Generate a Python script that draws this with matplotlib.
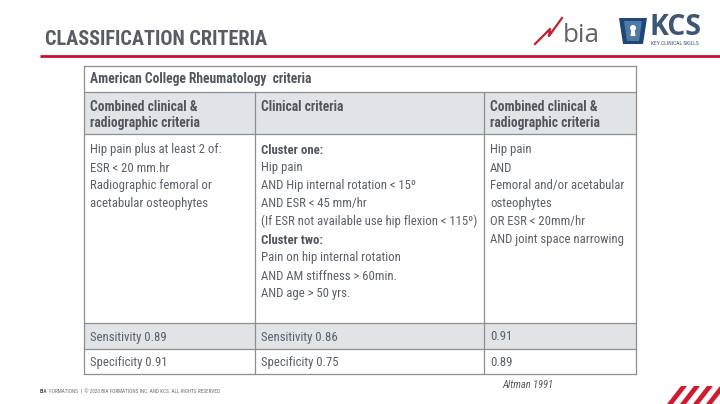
import matplotlib
matplotlib.use("Agg")
import matplotlib.pyplot as plt
from matplotlib import font_manager as fm
from matplotlib.patches import Rectangle, Polygon, Circle

# slide text / table content
title = "CLASSIFICATION CRITERIA"
table_title = "American College Rheumatology  criteria"
col_headers = [["Combined clinical &", "radiographic criteria"],
               ["Clinical criteria"],
               ["Combined clinical &", "radiographic criteria"]]
# (text, bold) per line
col1_lines = [("Hip pain plus at least 2 of:", False),
              ("ESR < 20 mm.hr", False),
              ("Radiographic femoral or", False),
              ("acetabular osteophytes", False)]
col2_lines = [("Cluster one:", True),
              ("Hip pain", False),
              ("AND Hip internal rotation < 15º", False),
              ("AND ESR < 45 mm/hr", False),
              ("(If ESR not available use hip flexion < 115º)", False),
              ("Cluster two:", True),
              ("Pain on hip internal rotation", False),
              ("AND AM stiffness > 60min.", False),
              ("AND age > 50 yrs.", False)]
col3_lines = [("Hip pain", False),
              ("AND", False),
              ("Femoral and/or acetabular", False),
              ("osteophytes", False),
              ("OR ESR < 20mm/hr", False),
              ("AND joint space narrowing", False)]
sensitivity = ["Sensitivity 0.89", "Sensitivity 0.86", "0.91"]
specificity = ["Specificity 0.91", "Specificity 0.75", "0.89"]
source = "Altman 1991"
footer = "© 2020 BIA FORMATIONS INC. AND KCS. ALL RIGHTS RESERVED."

# layout (pixels)
col_x = [84, 255, 484, 636]
row_y = [66, 92, 134, 323, 348.5, 374]
pad = 6
line_h = 18

# pick the narrowest family that is installed
have = {f.name for f in fm.fontManager.ttflist}
stretch = "normal"
for cand in ["Roboto Condensed", "Liberation Sans Narrow", "Open Sans Condensed",
             "Noto Sans Condensed", "DejaVu Sans Condensed"]:
    if cand in have:
        base = cand
        break
else:
    base = "Roboto" if "Roboto" in have else "Liberation Sans"
    cond = [f for f in fm.fontManager.ttflist
            if f.name == "DejaVu Sans" and str(f.stretch) in ("condensed", "semi-condensed")]
    if cond:
        base, stretch = "DejaVu Sans", "condensed"
FONT = [base, "DejaVu Sans"]

txt_col = "#5b6169"
hdr_col = "#4f565d"
hdr_bg = "#e1e4e6"
border = "#8e8e8e"
red = "#c8102e"

fig = plt.figure(figsize=(7.2, 4.04), dpi=100)
ax = fig.add_axes([0, 0, 1, 1])
ax.set_xlim(0, 720)
ax.set_ylim(404, 0)
ax.axis("off")
renderer = fig.canvas.get_renderer()


def T(x, y, s, size=10, **kw):
    kw.setdefault("family", FONT)
    kw.setdefault("fontstretch", stretch)
    kw.setdefault("va", "baseline")
    return ax.text(x, y, s, fontsize=size, **kw)


def fit(t, width, cap=None):
    w = t.get_window_extent(renderer).width
    size = t.get_fontsize() * width / w
    if cap:
        size = min(size, cap)
    t.set_fontsize(size)
    return size


# title + red rule
fit(T(45, 45, title, 17, fontweight="bold", color="#565d65"), 223)
ax.plot([40, 720], [56, 56], color=red, lw=2, solid_capstyle="butt")

# bia logo
ax.plot([535, 550, 549, 562], [44, 29, 36, 18], color="#c41f2c", lw=1.6)
fit(T(563, 42, "bia", 17, color="#5f6368", family="Open Sans",
      fontstretch="normal"), 37)

# KCS logo
ax.add_patch(Polygon([[619, 18], [647, 18], [643, 44], [623, 44]],
                     closed=True, fc="#1f4775", ec="none"))
ax.add_patch(Polygon([[624, 21], [642, 21], [639, 41], [627, 41]],
                     closed=True, fc="#4f7aa6", ec="none"))
ax.add_patch(Circle((633, 28), 3, fc="white", ec="none"))
ax.add_patch(Polygon([[631.5, 29], [634.5, 29], [635.5, 36], [630.5, 36]],
                     closed=True, fc="white", ec="none"))
fit(T(650, 35, "KCS", 13, fontweight="bold", color="#3d5674", family="Open Sans",
      fontstretch="normal"), 52)
fit(T(651, 40.8, "KEY CLINICAL SKILLS", 3, color="#3d5674", va="top"), 48)

# table backgrounds
ax.add_patch(Rectangle((col_x[0], row_y[1]), col_x[-1] - col_x[0],
                       row_y[2] - row_y[1], fc=hdr_bg, ec="none"))
ax.add_patch(Rectangle((col_x[0], row_y[3]), col_x[-1] - col_x[0],
                       row_y[4] - row_y[3], fc=hdr_bg, ec="none"))

# table grid
for y in row_y:
    ax.plot([col_x[0], col_x[-1]], [y, y], color=border, lw=0.9)
for x in (col_x[0], col_x[-1]):
    ax.plot([x, x], [row_y[0], row_y[-1]], color=border, lw=0.9)
for x in col_x[1:-1]:
    ax.plot([x, x], [row_y[1], row_y[-1]], color=border, lw=0.9)

# font sizes taken from reference text widths
hs = fit(T(col_x[0] + pad, 83.5, table_title, 10,
           fontweight="bold", color=hdr_col), 222, cap=11)
probe = T(0, -50, col1_lines[0][0], 10)
bs = fit(probe, 131, cap=11)
probe.remove()

# column headers
for i, lines in enumerate(col_headers):
    for j, s in enumerate(lines):
        T(col_x[i] + pad, 111 + j * 16.5, s, hs, fontweight="bold", color=hdr_col)

# body
for i, lines in enumerate([col1_lines, col2_lines, col3_lines]):
    for j, (s, b) in enumerate(lines):
        T(col_x[i] + pad, 153.5 + j * line_h, s, bs,
          fontweight="bold" if b else "normal", color=hdr_col if b else txt_col)

# sensitivity / specificity rows
for i in range(3):
    T(col_x[i] + pad, 340.5, sensitivity[i], bs, color=txt_col)
    T(col_x[i] + pad, 366, specificity[i], bs, color=txt_col)

# source
fit(T(502, 388, source, 9, style="italic", color="#555a60"), 51)

# footer
fb = T(40, 393, "BIA", 4.3, fontweight="bold", color="#555a60")
ft = T(40, 393, " FORMATIONS  |  " + footer, 4.3, color="#6b7077")
fs = fit(ft, 176)
fb.set_fontsize(fs)
ft.set_x(40 + fb.get_window_extent(renderer).width)

# red stripes bottom right
for x0 in [667, 680, 693, 706]:
    ax.add_patch(Polygon([[x0, 404], [x0 + 6, 404], [x0 + 20, 386], [x0 + 14, 386]],
                         closed=True, fc="#d11a2f", ec="none"))

fig.savefig("out.png", dpi=100)
